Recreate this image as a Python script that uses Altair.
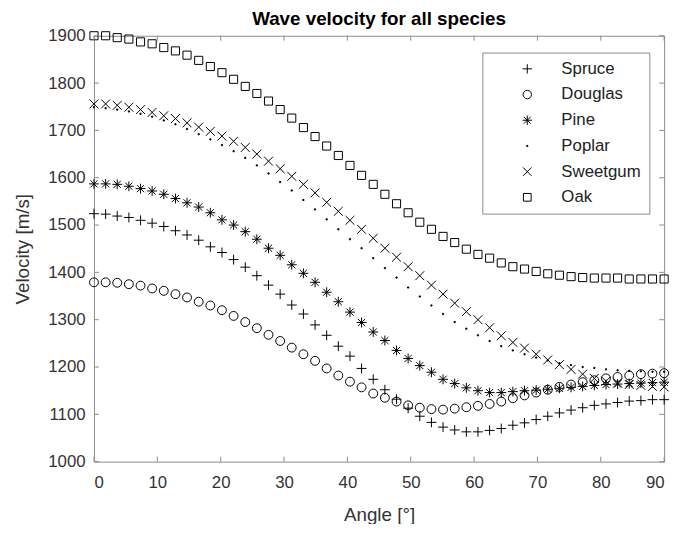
import altair as alt
import pandas as pd

# ---- data ----
angles = [0, 1.84, 3.67, 5.51, 7.35, 9.18, 11.02, 12.86, 14.69, 16.53,
          18.37, 20.2, 22.04, 23.88, 25.71, 27.55, 29.39, 31.22, 33.06, 34.9,
          36.73, 38.57, 40.41, 42.24, 44.08, 45.92, 47.76, 49.59, 51.43, 53.27,
          55.1, 56.94, 58.78, 60.61, 62.45, 64.29, 66.12, 67.96, 69.8, 71.63,
          73.47, 75.31, 77.14, 78.98, 80.82, 82.65, 84.49, 86.33, 88.16, 90]

species = ["Spruce", "Douglas", "Pine", "Poplar", "Sweetgum", "Oak"]

spruce = [1524, 1523, 1519, 1516, 1510, 1504, 1497, 1488, 1479, 1468,
          1454, 1442, 1427, 1411, 1393, 1373, 1354, 1331, 1312, 1289,
          1267, 1244, 1223, 1197, 1174, 1152, 1132, 1113, 1096, 1083,
          1073, 1067, 1063, 1063, 1066, 1070, 1077, 1082, 1089, 1096,
          1103, 1109, 1114, 1119, 1122, 1125, 1128, 1129, 1131, 1131]

douglas = [1379, 1379, 1378, 1375, 1372, 1366, 1361, 1354, 1347, 1338,
           1330, 1320, 1308, 1295, 1282, 1268, 1255, 1241, 1227, 1213,
           1197, 1182, 1169, 1157, 1144, 1135, 1127, 1119, 1114, 1111,
           1110, 1112, 1115, 1118, 1122, 1127, 1134, 1140, 1146, 1152,
           1158, 1163, 1168, 1172, 1176, 1179, 1182, 1185, 1186, 1187]

pine = [1587, 1587, 1586, 1582, 1577, 1572, 1565, 1556, 1547, 1538,
        1526, 1511, 1500, 1486, 1470, 1451, 1436, 1416, 1398, 1379,
        1358, 1338, 1316, 1294, 1274, 1256, 1235, 1218, 1203, 1189,
        1174, 1165, 1156, 1150, 1146, 1146, 1148, 1150, 1151, 1153,
        1155, 1157, 1159, 1161, 1163, 1164, 1165, 1166, 1167, 1168]

poplar = [1749, 1747, 1744, 1740, 1735, 1729, 1721, 1713, 1703, 1692,
          1681, 1669, 1656, 1642, 1626, 1609, 1591, 1573, 1553, 1533,
          1512, 1491, 1470, 1451, 1430, 1409, 1389, 1368, 1349, 1330,
          1312, 1295, 1281, 1267, 1255, 1244, 1235, 1227, 1220, 1214,
          1208, 1204, 1200, 1198, 1195, 1193, 1192, 1191, 1190, 1190]

sweetgum = [1756, 1756, 1753, 1749, 1744, 1738, 1731, 1725, 1716, 1707,
            1698, 1688, 1677, 1664, 1650, 1635, 1619, 1603, 1586, 1568,
            1548, 1529, 1510, 1491, 1472, 1451, 1432, 1412, 1393, 1373,
            1354, 1335, 1317, 1300, 1283, 1266, 1252, 1240, 1227, 1215,
            1205, 1195, 1185, 1176, 1170, 1166, 1163, 1161, 1159, 1158]

oak = [1900, 1900, 1896, 1893, 1887, 1883, 1875, 1868, 1859, 1848,
       1835, 1822, 1808, 1793, 1778, 1762, 1744, 1726, 1706, 1687,
       1667, 1647, 1626, 1605, 1586, 1565, 1545, 1526, 1506, 1491,
       1476, 1463, 1449, 1438, 1430, 1420, 1412, 1407, 1402, 1397,
       1394, 1391, 1389, 1388, 1388, 1388, 1386, 1386, 1386, 1386]

x_ticks = [0, 10, 20, 30, 40, 50, 60, 70, 80, 90]
y_ticks = [1000, 1100, 1200, 1300, 1400, 1500, 1600, 1700, 1800, 1900]

rows = []
for k, (name, vals) in enumerate(zip(species, [spruce, douglas, pine, poplar, sweetgum, oak])):
    for a, v in zip(angles, vals):
        rows.append({"angle": a, "velocity": v, "species": name, "order": k})
df = pd.DataFrame(rows)

# ---- styling ----
W, H = 577, 431
TICK = 5
AXIS_GRAY = "#8a8a8a"
TEXT = "#333333"
FONT = "Liberation Sans"

x_scale = alt.Scale(domain=[0, 90], nice=False, zero=False)
y_scale = alt.Scale(domain=[1000, 1900], nice=False, zero=False)

x_axis = alt.Axis(values=x_ticks, ticks=False, domain=False, grid=False, format="d",
                  labelPadding=13, labelFontSize=17, labelFont=FONT, labelColor=TEXT,
                  title="Angle [°]", titleFontSize=19, titleFont=FONT,
                  titleFontWeight="normal", titleColor=TEXT,
                  titleY=60, titleBaseline="alphabetic")
y_axis = alt.Axis(values=y_ticks, ticks=False, domain=False, grid=False, format="d",
                  labelPadding=9, labelFontSize=17, labelFont=FONT, labelColor=TEXT,
                  title="Velocity [m/s]", titleFontSize=19, titleFont=FONT,
                  titleFontWeight="normal", titleColor=TEXT,
                  titleX=-72, titleY=215.5, titleBaseline="middle", titleAngle=270)

# marker outlines in the unit box [-1, 1]; all drawn at one common size
marker_paths = [
    "M-1,0L1,0M0,-1L0,1",                                              # +
    "M-0.9,0A0.9,0.9 0 1,0 0.9,0A0.9,0.9 0 1,0 -0.9,0Z",               # o
    "M-1,0L1,0M0,-1L0,1M-0.72,-0.72L0.72,0.72M-0.72,0.72L0.72,-0.72",  # *
    "M-0.12,-0.12L0.12,-0.12L0.12,0.12L-0.12,0.12ZM-0.12,0L0.12,0",    # .
    "M-0.9,-0.9L0.9,0.9M-0.9,0.9L0.9,-0.9",                            # x
    "M-0.82,-0.82L0.82,-0.82L0.82,0.82L-0.82,0.82Z",                   # square
]

legend_kw = dict(
    orient="none", legendX=393, legendY=17, title=None,
    fillColor="white", strokeColor=AXIS_GRAY,
    padding=8, symbolOffset=29, labelOffset=26, rowPadding=8,
    labelFontSize=17, labelFont=FONT, labelColor="#222222",
    symbolStrokeColor="black", symbolStrokeWidth=1, symbolSize=90,
)

points = alt.Chart(df).mark_point(filled=False, strokeWidth=1, opacity=1, color="black",
                                  size=100).encode(
    x=alt.X("angle:Q", scale=x_scale, axis=x_axis),
    y=alt.Y("velocity:Q", scale=y_scale, axis=y_axis),
    shape=alt.Shape("species:N", scale=alt.Scale(domain=species, range=marker_paths),
                    legend=alt.Legend(**legend_kw)),
    order=alt.Order("order:Q"),
)

xt = pd.DataFrame({"angle": x_ticks})
yt = pd.DataFrame({"velocity": y_ticks})

bottom_ticks = alt.Chart(xt).mark_rule(color=AXIS_GRAY, strokeWidth=1).encode(
    x=alt.X("angle:Q", scale=x_scale, axis=x_axis), y=alt.value(H), y2=alt.value(H - TICK))
top_ticks = alt.Chart(xt).mark_rule(color=AXIS_GRAY, strokeWidth=1).encode(
    x=alt.X("angle:Q", scale=x_scale, axis=x_axis), y=alt.value(0), y2=alt.value(TICK))
left_ticks = alt.Chart(yt).mark_rule(color=AXIS_GRAY, strokeWidth=1).encode(
    y=alt.Y("velocity:Q", scale=y_scale, axis=y_axis), x=alt.value(0), x2=alt.value(TICK))
right_ticks = alt.Chart(yt).mark_rule(color=AXIS_GRAY, strokeWidth=1).encode(
    y=alt.Y("velocity:Q", scale=y_scale, axis=y_axis), x=alt.value(W), x2=alt.value(W - TICK))

chart = alt.layer(points, bottom_ticks, top_ticks, left_ticks, right_ticks).properties(
    width=W, height=H,
    title=alt.Title("Wave velocity for all species", fontSize=19, fontWeight="bold",
                    font=FONT, color="black", anchor="middle", offset=-2.5),
    autosize=alt.AutoSizeParams(type="none"),
    padding={"left": 87, "top": 25, "right": 12, "bottom": 60},
).configure_view(stroke=AXIS_GRAY, strokeWidth=1)

chart.save("out.html", embed_options={"renderer": "svg", "actions": False})
